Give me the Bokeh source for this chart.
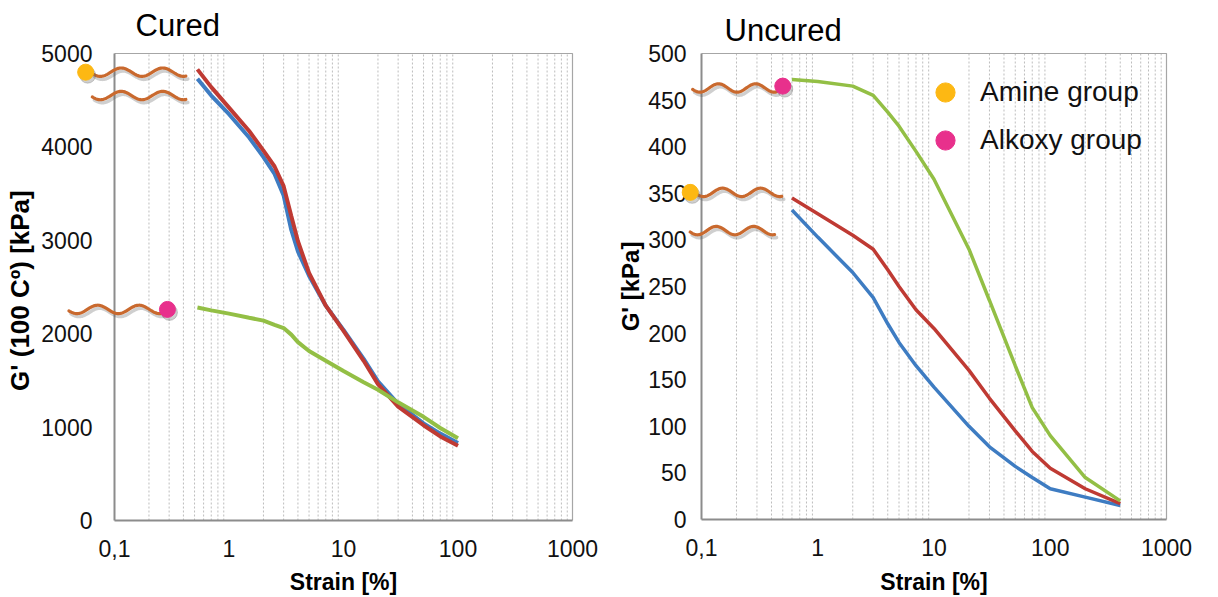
import numpy as np
from bokeh.plotting import figure
from bokeh.layouts import row
from bokeh.models import (Range1d, FixedTicker, CustomJSTickFormatter,
                          Legend, LegendItem, Label)
from bokeh.embed import file_html
from bokeh.resources import INLINE

# ---------------- data ----------------
# Cured (G' at 100 C, kPa) vs strain [%]
cured_strain = [0.53, 0.7, 1, 1.5, 2, 2.5, 3, 3.5, 4, 5, 7, 10, 15, 20, 30, 50, 70, 100]
cured_red = [4830, 4640, 4420, 4170, 3960, 3790, 3580, 3260, 2990, 2650, 2300, 2030, 1710, 1460, 1220, 1020, 900, 800]
cured_blue = [4730, 4550, 4350, 4100, 3890, 3710, 3480, 3110, 2880, 2620, 2300, 2040, 1730, 1490, 1250, 1040, 930, 830]
cured_green = [2280, 2250, 2215, 2170, 2140, 2095, 2060, 1990, 1910, 1815, 1710, 1600, 1480, 1400, 1265, 1110, 990, 880]

# Uncured (G', kPa) vs strain [%]
uncured_strain = [0.6, 1, 2, 3, 4, 5, 7, 10, 20, 30, 50, 70, 100, 200, 400]
uncured_green = [472, 470, 465, 455, 437, 422, 395, 365, 290, 235, 165, 120, 90, 45, 20]
uncured_red = [345, 328, 305, 290, 268, 250, 225, 205, 160, 130, 95, 73, 55, 33, 17]
uncured_blue = [332, 303, 265, 238, 210, 190, 165, 142, 100, 78, 57, 45, 33, 24, 15]

# axis-break squiggles: (strain start, strain end, G' level)
cured_breaks = [(0.064, 0.42, 4800), (0.064, 0.42, 4550), (0.040, 0.26, 2260)]
uncured_breaks = [(0.084, 0.44, 463), (0.090, 0.49, 351), (0.080, 0.425, 310)]
# group markers: (strain, G', group)
cured_dots = [(0.056, 4800, "amine"), (0.29, 2260, "alkoxy")]
uncured_dots = [(0.080, 351, "amine"), (0.50, 465, "alkoxy")]

x_ticks = [0.1, 1, 10, 100, 1000]
cured_yticks = [0, 1000, 2000, 3000, 4000, 5000]
uncured_yticks = list(range(0, 501, 50))
legend_labels = ["Amine group", "Alkoxy group"]
x_title = "Strain [%]"

# ---------------- style ----------------
FONT = "Liberation Sans"
BLUE, RED, GREEN = "#3E7CC2", "#BF3A33", "#93BF45"
WAVE = "#C9692E"
GROUP_COLOR = {"amine": "#FDB813", "alkoxy": "#E8308C"}
grid_ticks = [m * 10.0 ** e for e in range(-1, 3) for m in range(2, 10)]
H = 597
XMIN, XMAX = 0.1, 1000.0


def make_fig(width, box_l, box_r, box_t, box_b, ymax, title, title_dx, title_dy,
             ylabel, yticks, ylabel_size, ystand, ylstand, xlabel_dy):
    # box_* : pixel position of the plot box inside this figure
    ppd = (box_r - box_l) / np.log10(XMAX / XMIN)
    upp = ymax / (box_b - box_t)
    x_start = XMIN / 10 ** (box_l / ppd)
    x_end = XMAX * 10 ** ((width - box_r) / ppd)
    y_start = -(H - box_b) * upp
    y_end = ymax + box_t * upp
    p = figure(width=width, height=H, x_axis_type="log",
               x_range=Range1d(x_start, x_end), y_range=Range1d(y_start, y_end),
               output_backend="svg", toolbar_location=None, min_border=0)
    p.outline_line_color = None
    p.xgrid.grid_line_color = None
    p.ygrid.grid_line_color = None
    # dotted vertical grid inside the box
    p.segment(x0=grid_ticks, y0=0, x1=grid_ticks, y1=ymax, line_color="#BDBDBD",
              line_dash="2 2", line_width=1, level="underlay")
    p.xaxis.ticker = FixedTicker(ticks=x_ticks)
    p.xaxis.fixed_location = 0
    p.xaxis.bounds = (XMIN, XMAX)
    p.xaxis.formatter = CustomJSTickFormatter(
        code="return tick < 1 ? tick.toString().replace('.', ',') : tick.toFixed(0);")
    p.yaxis.ticker = FixedTicker(ticks=yticks)
    p.yaxis.fixed_location = XMIN
    p.yaxis.bounds = (0, ymax)
    p.yaxis.axis_label = ylabel
    for ax in (p.xaxis[0], p.yaxis[0]):
        ax.axis_line_color = "#8C8C8C"
        ax.axis_line_width = 2
        ax.major_tick_line_color = None
        ax.minor_tick_line_color = None
        ax.major_tick_out = 0
        ax.minor_tick_out = 0
        ax.major_tick_in = 0
        ax.minor_tick_in = 0
        ax.major_label_text_font = FONT
        ax.major_label_text_font_size = "23px"
        ax.major_label_text_color = "#111111"
        ax.axis_label_text_font = FONT
        ax.axis_label_text_font_style = "bold"
        ax.axis_label_text_color = "#000000"
    p.yaxis.axis_label_text_font_size = ylabel_size
    p.xaxis.major_label_standoff = 19
    p.yaxis.major_label_standoff = ystand
    p.yaxis.axis_label_standoff = ylstand
    # top and right border of the plot box
    p.line([XMIN, XMAX, XMAX], [ymax, ymax, 0], line_color="#A6A6A6", line_width=1.2)
    # chart title and x-axis title
    p.add_layout(Label(x=XMIN, y=ymax, x_offset=title_dx, y_offset=title_dy, text=title,
                       text_font=FONT, text_font_size="31px", text_color="#000000",
                       text_baseline="middle", text_align="left"))
    xc = 10 ** ((np.log10(XMIN) + np.log10(XMAX)) / 2)
    p.add_layout(Label(x=xc, y=0, y_offset=xlabel_dy, text=x_title,
                       text_font=FONT, text_font_size="23px", text_font_style="bold",
                       text_color="#000000", text_baseline="middle", text_align="center"))
    return p, ppd, upp


def add_breaks(p, breaks, dots, ppd, upp):
    t = np.linspace(0, 1, 120)
    sdx = 10 ** (2.0 / ppd)
    sdy = 3.0 * upp
    for (x0, x1, y) in breaks:
        xs = 10 ** (np.log10(x0) + (np.log10(x1) - np.log10(x0)) * t)
        ys = y - 4.2 * upp * np.sin(2 * np.pi * 2.25 * t + 0.35)
        p.line(xs * sdx, ys - sdy, line_color="#606060", line_alpha=0.3, line_width=3.5,
               line_join="round", line_cap="round", level="overlay")
        p.line(xs, ys, line_color=WAVE, line_width=3.2,
               line_join="round", line_cap="round", level="overlay")
    rends = {}
    for g in ("amine", "alkoxy"):
        gx = [d[0] for d in dots if d[2] == g]
        gy = [d[1] for d in dots if d[2] == g]
        p.scatter([x * sdx for x in gx], [y - sdy for y in gy], size=16,
                  color="#606060", alpha=0.3, level="overlay")
        rends[g] = p.scatter(gx, gy, size=16, color=GROUP_COLOR[g], level="overlay")
    return rends


# ---------------- left: Cured ----------------
W1 = 608
p1, ppd1, upp1 = make_fig(W1, 114, 572, 53, 520, 5000, "Cured", 21, 28,
                          "G' (100 Cº)  [kPa]", cured_yticks, "26px", 22, 3, -61)
add_breaks(p1, cured_breaks, cured_dots, ppd1, upp1)
p1.line(cured_strain, cured_blue, line_color=BLUE, line_width=4)
p1.line(cured_strain, cured_red, line_color=RED, line_width=4)
p1.line(cured_strain, cured_green, line_color=GREEN, line_width=4)

# ---------------- right: Uncured ----------------
W2 = 1218 - W1
p2, ppd2, upp2 = make_fig(W2, 701 - W1, 1166 - W1, 53, 519, 500, "Uncured", 23, 23,
                          "G' [kPa]", uncured_yticks, "24px", 15, 1, -62)
rends2 = add_breaks(p2, uncured_breaks, uncured_dots, ppd2, upp2)
p2.line(uncured_strain, uncured_blue, line_color=BLUE, line_width=3.5)
p2.line(uncured_strain, uncured_red, line_color=RED, line_width=3.5)
p2.line(uncured_strain, uncured_green, line_color=GREEN, line_width=3.5)

legend = Legend(items=[LegendItem(label=legend_labels[0], renderers=[rends2["amine"]]),
                       LegendItem(label=legend_labels[1], renderers=[rends2["alkoxy"]])],
                location=(921 - W1, H - 164), glyph_width=48, glyph_height=48, spacing=0,
                padding=0, margin=0, label_standoff=11,
                label_text_font=FONT, label_text_font_size="28px",
                label_text_color="#111111", border_line_color=None,
                background_fill_alpha=0)
p2.add_layout(legend)

layout = row(p1, p2)
open("out.html", "w").write(file_html(layout, INLINE))
